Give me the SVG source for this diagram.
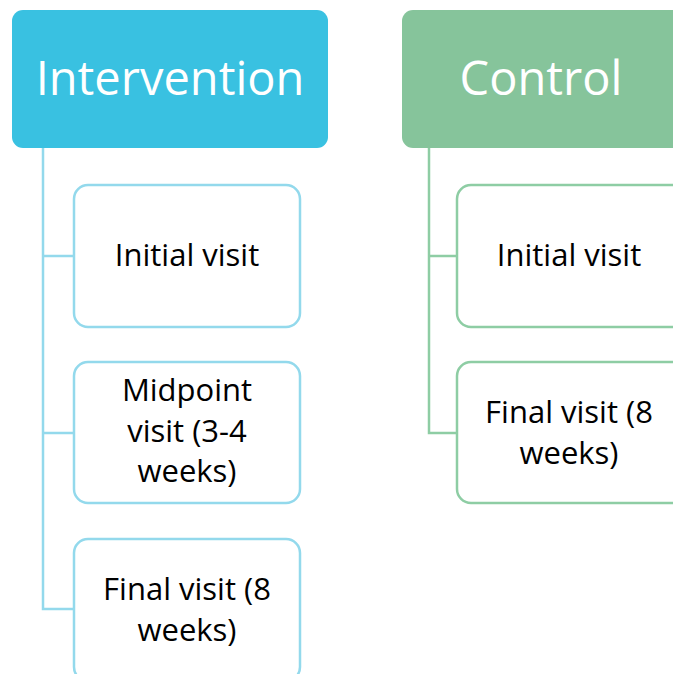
<svg xmlns="http://www.w3.org/2000/svg" width="673" height="674" viewBox="0 0 673 674">
<style>
.hdr{font-family:"Open Sans","Liberation Sans",sans-serif;font-size:47px;fill:#fff;text-anchor:middle}
.lbl{font-family:"Open Sans","Liberation Sans",sans-serif;font-size:31px;fill:#000;text-anchor:middle}
.cb{fill:#fff;stroke:#93D9EC;stroke-width:2.5}
.gb{fill:#fff;stroke:#8ECDA4;stroke-width:2.5}
.cl{fill:none;stroke:#93D9EC;stroke-width:2.5}
.gl{fill:none;stroke:#8ECDA4;stroke-width:2.5}
</style>
<rect width="673" height="674" fill="#fff"/>
<g id="connectors">
<path class="cl" d="M43,148 V609 H74 M43,256 H74 M43,433 H74"/>
<path class="gl" d="M429,148 V433 H457 M429,256 H457"/>
</g>
<g id="intervention">
<rect x="12" y="10" width="316" height="138" rx="11" fill="#39C1E1"/>
<text class="hdr" x="170" y="95">Intervention</text>
</g>
<g id="control">
<rect x="402" y="10" width="320" height="138" rx="11" fill="#86C49B"/>
<text class="hdr" x="541" y="95">Control</text>
</g>
<g id="i-initial">
<rect class="cb" x="74" y="185" width="226" height="142" rx="14"/>
<text class="lbl" x="187" y="266">Initial visit</text>
</g>
<g id="i-mid">
<rect class="cb" x="74" y="362" width="226" height="141" rx="14"/>
<text class="lbl" x="187" y="401">Midpoint</text>
<text class="lbl" x="187" y="442">visit (3-4</text>
<text class="lbl" x="187" y="482">weeks)</text>
</g>
<g id="i-final">
<rect class="cb" x="74" y="539" width="226" height="142" rx="14"/>
<text class="lbl" x="187" y="600">Final visit (8</text>
<text class="lbl" x="187" y="641">weeks)</text>
</g>
<g id="c-initial">
<rect class="gb" x="457" y="185" width="240" height="142" rx="14"/>
<text class="lbl" x="569" y="266">Initial visit</text>
</g>
<g id="c-final">
<rect class="gb" x="457" y="362" width="240" height="141" rx="14"/>
<text class="lbl" x="569" y="423">Final visit (8</text>
<text class="lbl" x="569" y="464">weeks)</text>
</g>
</svg>
